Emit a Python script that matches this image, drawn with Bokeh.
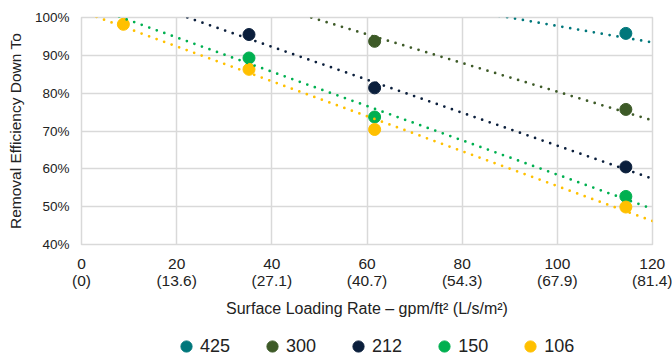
from bokeh.plotting import figure
from bokeh.layouts import column
from bokeh.models import Range1d, FixedTicker, PrintfTickFormatter, Legend, LegendItem, ColumnDataSource
from bokeh.embed import file_html
from bokeh.resources import INLINE

# ---- data ----
loading_gpm = [8.8, 35.2, 61.6, 114.4]
series_names = ["425", "300", "212", "150", "106"]
nan = float("nan")
eff_425 = [nan, nan, nan, 95.8]
eff_300 = [nan, nan, 93.7, 75.7]
eff_212 = [nan, 95.5, 81.4, 60.5]
eff_150 = [nan, 89.3, 73.7, 52.7]
eff_106 = [98.2, 86.3, 70.4, 49.9]
# linear trendline values at x = 0 and x = 120
trend_x = [0, 120]
trend_425 = [119.6, 93.4]
trend_300 = [118.3, 72.8]
trend_212 = [109.7, 57.4]
trend_150 = [103.8, 49.4]
trend_106 = [101.6, 46.2]
x_ticks = [0, 20, 40, 60, 80, 100, 120]
x_tick_metric = ["0", "13.6", "27.1", "40.7", "54.3", "67.9", "81.4"]
y_ticks = [40, 50, 60, 70, 80, 90, 100]

colors = ["#00777B", "#3D5A27", "#0B1F3C", "#00B050", "#FFC000"]
effs = [eff_425, eff_300, eff_212, eff_150, eff_106]
trends = [trend_425, trend_300, trend_212, trend_150, trend_106]

FONT = "Liberation Sans"
TXT = "#222222"

p = figure(width=672, height=332, output_backend="svg", toolbar_location=None,
           x_range=Range1d(0, 120), y_range=Range1d(40, 100),
           min_border_left=81, min_border_right=20, min_border_top=17, min_border_bottom=88)
p.background_fill_color = "white"
p.border_fill_color = "white"
p.outline_line_color = "#D9D9D9"
p.outline_line_width = 1.5

p.xgrid.grid_line_color = "#D9D9D9"
p.ygrid.grid_line_color = "#D9D9D9"
p.xgrid.grid_line_width = 1.5
p.ygrid.grid_line_width = 1.5

p.xaxis.ticker = FixedTicker(ticks=x_ticks)
p.yaxis.ticker = FixedTicker(ticks=y_ticks)
p.xaxis.major_label_overrides = {t: f"{t}\n({m})" for t, m in zip(x_ticks, x_tick_metric)}
p.yaxis.formatter = PrintfTickFormatter(format="%d%%")

for ax in (p.xaxis, p.yaxis):
    ax.axis_line_color = None
    ax.major_tick_line_color = None
    ax.minor_tick_line_color = None
    ax.major_tick_out = 0
    ax.major_tick_in = 0
    ax.major_label_text_font = FONT
    ax.major_label_text_color = TXT
    ax.axis_label_text_font = FONT
    ax.axis_label_text_color = TXT
    ax.axis_label_text_font_style = "normal"

p.yaxis.major_label_text_font_size = "13.5px"
p.yaxis.major_label_standoff = 12
p.yaxis.axis_label = "Removal Efficiency Down To"
p.yaxis.axis_label_text_font_size = "15.5px"
p.yaxis.axis_label_standoff = 8

p.xaxis.major_label_text_font_size = "15.5px"
p.xaxis.major_label_text_line_height = 1.0
p.xaxis.major_label_standoff = 10
p.xaxis.axis_label = "Surface Loading Rate \u2013 gpm/ft\u00b2 (L/s/m\u00b2)"
p.xaxis.axis_label_text_font_size = "16px"
p.xaxis.axis_label_standoff = 8

for name, col, ys in zip(series_names, colors, effs):
    src = ColumnDataSource(dict(x=loading_gpm, y=ys))
    p.scatter("x", "y", source=src, size=12, fill_color=col, line_color=col, marker="circle")
for col, tr in zip(colors, trends):
    p.line(trend_x, tr, line_color=col, line_width=2.75, line_dash="0 8", line_cap="round")

# legend strip below the chart (its key renderers sit outside its visible range)
lg = figure(width=672, height=22, output_backend="svg", toolbar_location=None,
            x_axis_type=None, y_axis_type=None, x_range=Range1d(0, 1), y_range=Range1d(0, 1),
            min_border=0, min_border_left=0, min_border_right=0, min_border_top=0, min_border_bottom=0)
lg.outline_line_color = None
lg.xgrid.visible = False
lg.ygrid.visible = False
items = []
for name, col in zip(series_names, colors):
    r = lg.scatter(x=[-5], y=[-5], size=12, fill_color=col, line_color=col, marker="circle")
    items.append(LegendItem(label=name, renderers=[r]))
legend = Legend(items=items, orientation="horizontal", location=(91, -6),
                glyph_width=28, glyph_height=28, label_standoff=0, spacing=28,
                padding=0, margin=0, border_line_color=None, background_fill_alpha=0,
                label_text_font=FONT, label_text_font_size="18px", label_text_color=TXT)
lg.add_layout(legend, "center")

layout = column(p, lg, spacing=0)
open("out.html", "w").write(file_html(layout, INLINE))
